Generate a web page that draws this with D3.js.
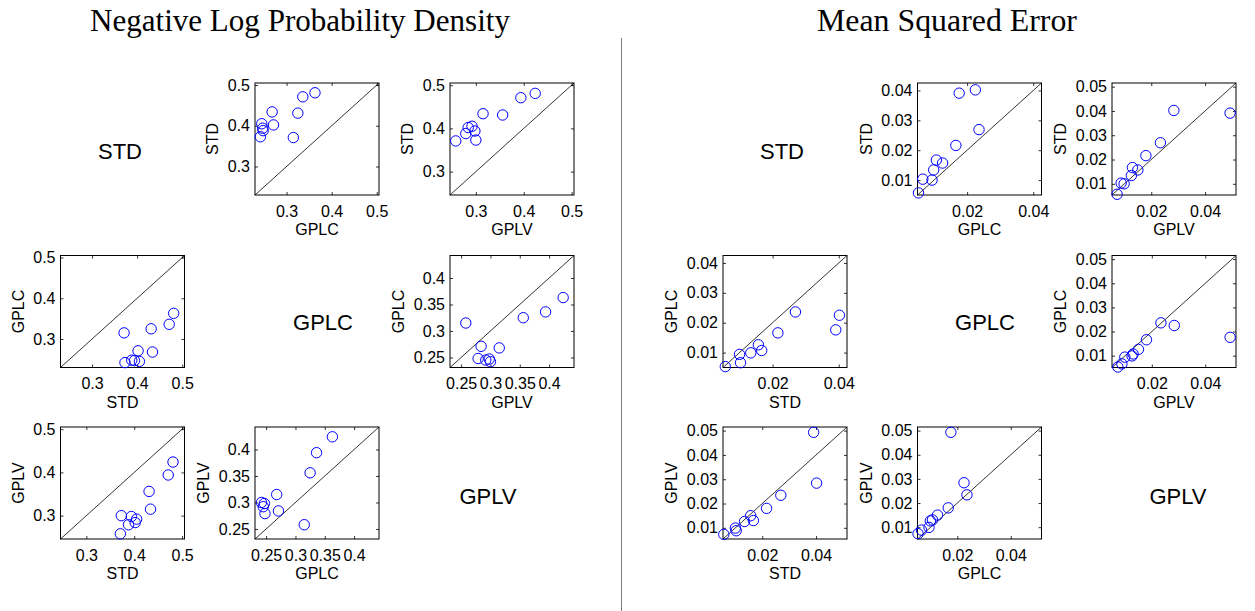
<!DOCTYPE html>
<html><head><meta charset="utf-8">
<script src="https://cdn.jsdelivr.net/npm/d3@7"></script>
<style>body{margin:0;background:#fff} svg{display:block}</style>
</head><body>
<script>
// ---------------- data ----------------
const methods = ["STD", "GPLC", "GPLV"];
const titles = ["Negative Log Probability Density", "Mean Squared Error"];

// Negative log probability density, 10 datasets
const nlpdSTD  = [0.481, 0.471, 0.434, 0.431, 0.402, 0.405, 0.394, 0.388, 0.373, 0.371];
const nlpdGPLC = [0.363, 0.336, 0.268, 0.325, 0.271, 0.245, 0.247, 0.248, 0.242, 0.315];
const nlpdGPLV = [0.424, 0.394, 0.315, 0.356, 0.284, 0.292, 0.298, 0.279, 0.300, 0.258];

// Mean squared error, 10 datasets
const mseSTD  = [0.0402, 0.0391, 0.0269, 0.0216, 0.0167, 0.0157, 0.0134, 0.0103, 0.0100, 0.0057];
const mseGPLC = [0.0225, 0.0176, 0.0236, 0.0166, 0.0107, 0.0126, 0.0099, 0.0066, 0.0094, 0.0053];
const mseGPLV = [0.0284, 0.0493, 0.0234, 0.0180, 0.0130, 0.0150, 0.0126, 0.0088, 0.0099, 0.0073];

// axis limits per method pair
const nlpdLimits = {"STD-GPLC": [0.230, 0.505], "STD-GPLV": [0.246, 0.505], "GPLC-GPLV": [0.231, 0.4425]};
const mseLimits  = {"STD-GPLC": [0.0050, 0.0425], "STD-GPLV": [0.0054, 0.0515], "GPLC-GPLV": [0.0051, 0.0515]};

// tick values per method pair
const nlpdTicks  = {"STD-GPLC": [0.3, 0.4, 0.5], "STD-GPLV": [0.3, 0.4, 0.5], "GPLC-GPLV": [0.25, 0.3, 0.35, 0.4]};
const mseXTicks  = {"STD-GPLC": [0.02, 0.04], "STD-GPLV": [0.02, 0.04], "GPLC-GPLV": [0.02, 0.04]};
const mseYTicks  = {"STD-GPLC": [0.01, 0.02, 0.03, 0.04], "STD-GPLV": [0.01, 0.02, 0.03, 0.04, 0.05], "GPLC-GPLV": [0.01, 0.02, 0.03, 0.04, 0.05]};

// ---------------- layout ----------------
const Wd = 1255, Ht = 611;
const PW = 124, PH = 112;
const groups = [
  {values: [nlpdSTD, nlpdGPLC, nlpdGPLV], limits: nlpdLimits, xt: nlpdTicks, yt: nlpdTicks,
   colX: [60.5, 255, 450], titleX: 300, titleW: 420,
   diag: [[120, 151], [323, 322], [488, 496]]},
  {values: [mseSTD, mseGPLC, mseGPLV], limits: mseLimits, xt: mseXTicks, yt: mseYTicks,
   colX: [723, 917.5, 1112], titleX: 947, titleW: 260,
   diag: [[782, 151], [985, 322], [1178, 496]]}
];
const rowY = [83, 255.5, 427];

const svg = d3.select("body").append("svg").attr("width", Wd).attr("height", Ht);

// divider
svg.append("line").attr("x1", 621.5).attr("x2", 621.5).attr("y1", 38).attr("y2", Ht)
  .attr("stroke", "#7f7f7f").attr("stroke-width", 1);

const tickFont = "Liberation Sans, Arial, sans-serif";

groups.forEach((gr, gi) => {
  // title
  const t = svg.append("text").attr("x", gr.titleX).attr("y", 31)
    .attr("text-anchor", "middle")
    .style("font-family", "Liberation Serif, Times New Roman, serif")
    .style("font-size", "24px").text(titles[gi]);
  const len = t.node().getComputedTextLength();
  t.style("font-size", (24 * gr.titleW / len).toFixed(2) + "px");

  for (let r = 0; r < 3; r++) {
    for (let c = 0; c < 3; c++) {
      if (r === c) {
        svg.append("text").attr("x", gr.diag[r][0]).attr("y", gr.diag[r][1])
          .attr("text-anchor", "middle").attr("dominant-baseline", "central")
          .style("font-family", tickFont).style("font-size", "22px").text(methods[r]);
        continue;
      }
      const key = methods[Math.min(r, c)] + "-" + methods[Math.max(r, c)];
      const dom = gr.limits[key];
      const x0 = gr.colX[c], y0 = rowY[r];
      const xs = d3.scaleLinear().domain(dom).range([x0, x0 + PW]);
      const ys = d3.scaleLinear().domain(dom).range([y0 + PH, y0]);
      const g = svg.append("g");

      // box
      g.append("rect").attr("x", x0).attr("y", y0).attr("width", PW).attr("height", PH)
        .attr("fill", "none").attr("stroke", "#000").attr("stroke-width", 1);

      // axes with inward ticks
      const styleAxis = sel => {
        sel.select(".domain").remove();
        sel.selectAll("line").attr("stroke", "#000").attr("stroke-width", 0.8);
        sel.selectAll("text").style("font-family", tickFont).style("font-size", "16px").attr("fill", "#000");
      };
      const fmt = d => String(d);
      g.append("g").attr("transform", `translate(0,${y0 + PH})`)
        .call(d3.axisBottom(xs).tickValues(gr.xt[key]).tickFormat(fmt).tickSizeInner(-3).tickSizeOuter(0).tickPadding(10.5))
        .call(styleAxis);
      g.append("g").attr("transform", `translate(0,${y0})`)
        .call(d3.axisTop(xs).tickValues(gr.xt[key]).tickFormat("").tickSizeInner(-3).tickSizeOuter(0))
        .call(styleAxis);
      const yAx = g.append("g").attr("transform", `translate(${x0},0)`)
        .call(d3.axisLeft(ys).tickValues(gr.yt[key]).tickFormat(fmt).tickSizeInner(-3).tickSizeOuter(0).tickPadding(5))
        .call(styleAxis);
      g.append("g").attr("transform", `translate(${x0 + PW},0)`)
        .call(d3.axisRight(ys).tickValues(gr.yt[key]).tickFormat("").tickSizeInner(-3).tickSizeOuter(0))
        .call(styleAxis);

      // diagonal
      g.append("line").attr("x1", xs(dom[0])).attr("y1", ys(dom[0]))
        .attr("x2", xs(dom[1])).attr("y2", ys(dom[1]))
        .attr("stroke", "#000").attr("stroke-width", 0.8);

      // points
      const xv = gr.values[c], yv = gr.values[r];
      g.selectAll("circle").data(xv.map((v, i) => [v, yv[i]])).enter().append("circle")
        .attr("cx", d => xs(d[0])).attr("cy", d => ys(d[1])).attr("r", 5.2)
        .attr("fill", "none").attr("stroke", "#0000ff").attr("stroke-width", 1);

      // axis labels
      g.append("text").attr("x", x0 + PW / 2).attr("y", y0 + PH + 40)
        .attr("text-anchor", "middle").style("font-family", tickFont).style("font-size", "16px")
        .text(methods[c]);
      let maxW = 0;
      yAx.selectAll("text").each(function () { maxW = Math.max(maxW, this.getComputedTextLength()); });
      const lx = x0 - 5 - maxW - 15;
      g.append("text").attr("transform", `translate(${lx + 5.5},${y0 + PH / 2}) rotate(-90)`)
        .attr("text-anchor", "middle").style("font-family", tickFont).style("font-size", "16px")
        .text(methods[r]);
    }
  }
});
</script>
</body></html>
